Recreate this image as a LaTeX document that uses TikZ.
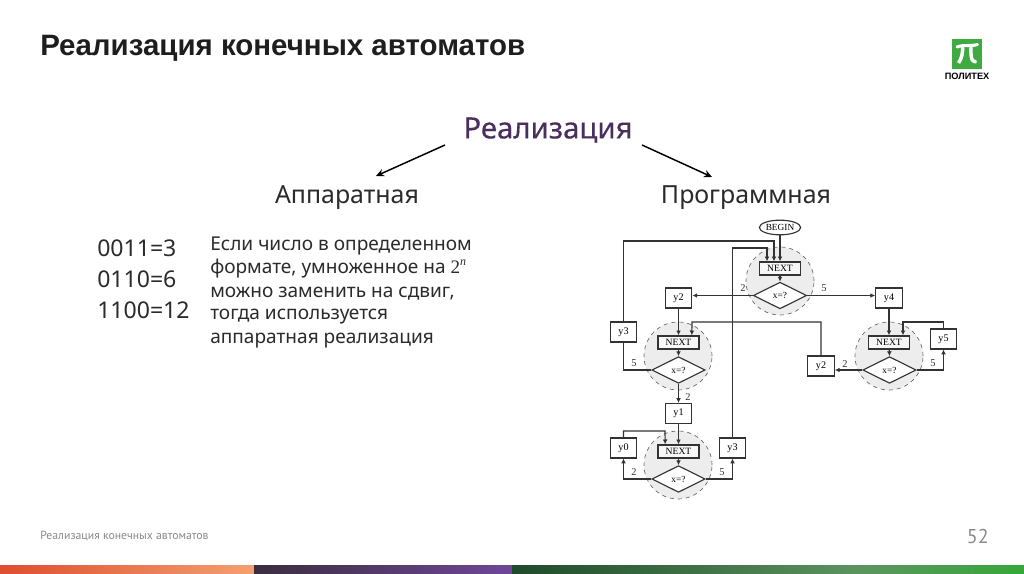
\documentclass[tikz,border=0pt]{standalone}
\usepackage{fontspec}
\setmainfont{Noto Sans}
\newfontfamily\flowfont{Liberation Serif}
\newfontfamily\footfont{PT Sans}
\newfontfamily\headfont[FakeBold=0.35]{Noto Sans}
\newfontfamily\boldfont{Liberation Sans Bold}
\usetikzlibrary{arrows.meta,shapes.geometric,calc}
\definecolor{titleink}{HTML}{1E1E1E}
\definecolor{purpleink}{HTML}{4A2F5E}
\definecolor{bodyink}{HTML}{2B2B2B}
\definecolor{footink}{HTML}{8A8A8A}
\definecolor{logogreen}{HTML}{3FAA3F}
\definecolor{lineink}{HTML}{333333}
\definecolor{barA}{HTML}{DF4E2C}
\definecolor{barB}{HTML}{F4A070}
\definecolor{barC}{HTML}{3A2E3E}
\definecolor{barD}{HTML}{6F4798}
\definecolor{barE}{HTML}{1F4A2A}
\definecolor{barF}{HTML}{5C9460}
\definecolor{barG}{HTML}{35A83A}
\tikzset{
  x=0.75pt,y=-0.75pt,
  sz/.style={font=\fontsize{#1}{#1}\selectfont},
  bigarrow/.style={-{Stealth[length=6pt,width=5.5pt]},line width=1.1pt,black},
  fl/.style={line width=0.85pt,lineink},
  fa/.style={fl,-{Latex[length=3.6pt,width=3.6pt]}},
  ybox/.style={draw=lineink,line width=0.85pt,fill=white,minimum width=20pt,minimum height=15pt,inner sep=0pt,font=\flowfont\fontsize{7.6}{7.6}\selectfont},
  nextbox/.style={draw=lineink,line width=1.1pt,fill=black!3,minimum width=30.5pt,minimum height=9.7pt,inner sep=0pt,font=\flowfont\fontsize{7.2}{7.2}\selectfont},
  dia/.style={diamond,aspect=2,draw=lineink,line width=0.85pt,fill=white,minimum width=40pt,minimum height=20pt,inner sep=0pt,font=\flowfont\fontsize{7}{7}\selectfont},
  halo/.style={circle,draw=black!60,dashed,line width=0.5pt,fill=black!7,minimum size=51pt,inner sep=0pt},
  lab/.style={font=\flowfont\fontsize{7.8}{7.8}\selectfont,inner sep=0pt,text=lineink},
}
\begin{document}
\begin{tikzpicture}
\useasboundingbox (0,0) rectangle (1024,574);
\fill[white] (0,0) rectangle (1024,574);
% heading
\node[anchor=west,inner sep=0pt,sz=22.1,text=titleink] (title) at (40,48.5) {\boldfont Реализация конечных автоматов};
% logo
\node[fill=logogreen,minimum size=22pt,inner sep=0pt] (logo) at (967,54) {};
\draw[white,line width=2.3pt,line cap=round] (957,47) .. controls (962,44.5) and (972,46.5) .. (977.5,44.5);
\draw[white,line width=2.6pt] (962.5,46) .. controls (963,53) and (961.5,59) .. (958.5,63);
\draw[white,line width=2.6pt] (971,46) .. controls (971,53) and (970,63) .. (976.5,61.5);
\node[inner sep=0pt,sz=6.9,text=black] (logotext) at (967,76) {\boldfont ПОЛИТЕХ};
% heads
\node[inner sep=0pt,sz=22,text=purpleink] (real) at (548,130) {\headfont Реализация};
\node[inner sep=0pt,sz=18.7,text=bodyink] (hw) at (347,198) {Аппаратная};
\node[inner sep=0pt,sz=18.7,text=bodyink] (sw) at (746,198) {Программная};
\coordinate (ra) at (445,145);
\coordinate (rb) at (642,145);
\coordinate (ha) at (376,176);
\coordinate (sa) at (712,177);
\draw[bigarrow] (ra) -- (ha);
\draw[bigarrow] (rb) -- (sa);
% numbers
\node[anchor=west,inner sep=0pt,sz=17.3,text=bodyink] (n1) at (97,248) {0011=3};
\node[anchor=west,inner sep=0pt,sz=17.3,text=bodyink] (n2) at (97,279) {0110=6};
\node[anchor=west,inner sep=0pt,sz=17.3,text=bodyink] (n3) at (97,310) {1100=12};
% description
\node[anchor=west,inner sep=0pt,sz=14.3,text=bodyink] (d1) at (210,246) {Если число в определенном};
\node[anchor=west,inner sep=0pt,sz=14.3,text=bodyink] (d2) at (210,269) {формате, умноженное на {\flowfont 2\raisebox{0.42em}{\fontsize{9}{9}\selectfont\itshape n}}};
\node[anchor=west,inner sep=0pt,sz=14.3,text=bodyink] (d3) at (210,293.5) {можно заменить на сдвиг,};
\node[anchor=west,inner sep=0pt,sz=14.3,text=bodyink] (d4) at (210,316.5) {тогда используется};
\node[anchor=west,inner sep=0pt,sz=14.3,text=bodyink] (d5) at (210,341) {аппаратная реализация};
% halos
\node[halo] (h1) at (780,281) {};
\node[halo] (h2) at (678,356) {};
\node[halo] (h3) at (678,465) {};
\node[halo] (h4) at (889,356) {};
% nodes
\node[draw=lineink,line width=0.85pt,ellipse,fill=white,minimum width=31pt,minimum height=11pt,inner sep=0pt,font=\flowfont\fontsize{7}{7}\selectfont] (begin) at (780,227.5) {BEGIN};
\node[nextbox] (next1) at (780,268.5) {NEXT};
\node[dia] (d1x) at (780,295.5) {x=?};
\node[nextbox] (next2) at (678.5,342.5) {NEXT};
\node[dia] (d2x) at (678.5,370) {x=?};
\node[nextbox] (next3) at (678.5,451.5) {NEXT};
\node[dia] (d3x) at (678.5,479) {x=?};
\node[nextbox] (next4) at (889,342.5) {NEXT};
\node[dia] (d4x) at (889.5,370) {x=?};
\node[ybox] (y2a) at (678.5,298) {y2};
\node[ybox] (y3a) at (623.5,332) {y3};
\node[ybox] (y1) at (678.5,413.5) {y1};
\node[ybox] (y0) at (623.5,448) {y0};
\node[ybox] (y3b) at (732.5,448) {y3};
\node[ybox] (y4) at (889,298) {y4};
\node[ybox] (y5) at (943.5,339) {y5};
\node[ybox] (y2b) at (821,366) {y2};
% connectors
\draw[fa] (begin) -- (next1.north);
\draw[fa] (next1) -- (d1x.north);
\draw[fa] (next2) -- (d2x.north);
\draw[fa] (next3) -- (d3x.north);
\draw[fa] (next4) -- (d4x.north);
\draw[fa] (d1x.west) -- (y2a.east |- d1x.west);
\draw[fa] (d1x.east) -- (y4.west |- d1x.east);
\draw[fa] (y2a) -- (next2.north);
\draw[fa] (y1) -- (next3.north);
\draw[fa] (y4) -- (next4.north);
\draw[fa] (d2x.south) -- (y1.north);
\draw[fa] (y3a.north) |- (774,241) -- ([xshift=-4.5pt]next1.north);
\draw[fa] (y3b.north) |- (767,248) -- ([xshift=-9.75pt]next1.north);
\draw[fa] (y2b.north) |- (692,322) -- ([xshift=10pt]next2.north);
\draw[fl] (d2x.west) -| (y3a.south);
\draw[fa] (d3x.west) -| (y0.south);
\draw[fa] (d3x.east) -| (y3b.south);
\draw[fa] (y0.north) |- (665,431) -- ([xshift=-10pt]next3.north);
\draw[fa] (d4x.west) -- (y2b.east |- d4x.west);
\draw[fa] (d4x.east) -| (y5.south);
\draw[fa] (y5.north) |- (903,322) -- ([xshift=10.5pt]next4.north);
% labels
\node[lab] (l1) at (743,288) {2};
\node[lab] (l2) at (824,288.5) {5};
\node[lab] (l3) at (634,363) {5};
\node[lab] (l4) at (688,397) {2};
\node[lab] (l5) at (634,472) {2};
\node[lab] (l6) at (722,472) {5};
\node[lab] (l7) at (845,364) {2};
\node[lab] (l8) at (933,363) {5};
% footer
\node[anchor=west,inner sep=0pt,sz=8.8,text=footink] (foot) at (40,536) {\footfont Реализация конечных автоматов};
\node[anchor=east,inner sep=0pt,sz=15,text=footink] (page) at (989,536) {\footfont 52};
\shade[left color=barA,right color=barB] (0,565) rectangle (254,574);
\shade[left color=barC,right color=barD] (254,565) rectangle (512,574);
\shade[left color=barE,right color=barF] (512,565) rectangle (860,574);
\shade[left color=barF,right color=barG] (860,565) rectangle (1024,574);
\end{tikzpicture}
\end{document}
